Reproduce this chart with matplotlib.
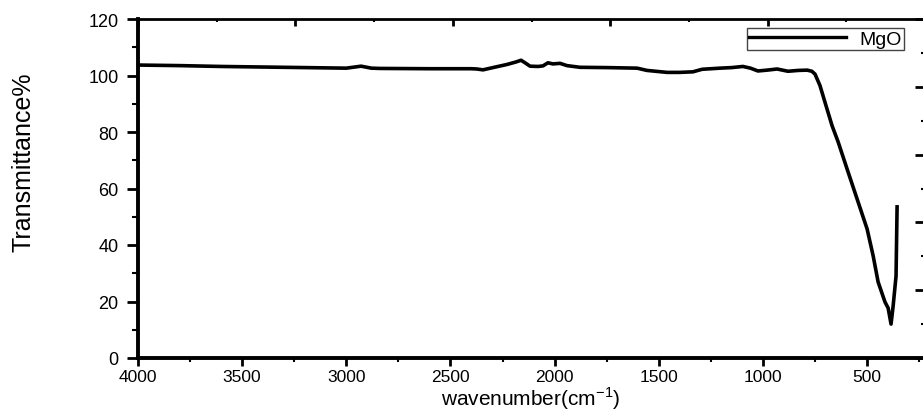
import matplotlib
matplotlib.use('Agg')
import matplotlib.pyplot as plt
from matplotlib.ticker import MultipleLocator

plt.rcParams['font.family'] = ['Liberation Sans', 'DejaVu Sans']
plt.rcParams['mathtext.fontset'] = 'custom'
plt.rcParams['mathtext.rm'] = 'Liberation Sans'

# FTIR spectrum
wavenumber = [4000, 3800, 3600, 3400, 3200, 3000, 2929, 2880, 2838, 2600, 2400,
              2373, 2344, 2290, 2229, 2185, 2161, 2140, 2118, 2080, 2056,
              2032, 2008, 1974, 1941, 1878, 1750, 1604, 1557, 1460, 1400,
              1336, 1292, 1206, 1150, 1096, 1060, 1024, 980, 932, 880,
              830, 788, 765, 750, 726, 702, 668, 639, 596, 548,
              500, 471, 447, 414, 399, 385, 375, 361, 356]
transmittance = [103.7, 103.5, 103.2, 103.0, 102.8, 102.6, 103.3, 102.6, 102.5, 102.4, 102.4,
                 102.3, 102.0, 102.9, 103.9, 104.8, 105.4, 104.4, 103.3, 103.2, 103.4,
                 104.5, 104.1, 104.3, 103.5, 102.9, 102.8, 102.6, 101.8, 101.1, 101.1,
                 101.3, 102.2, 102.6, 102.8, 103.2, 102.6, 101.6, 101.9, 102.3, 101.5,
                 101.8, 101.9, 101.5, 100.5, 96.4, 90.5, 82.2, 76.5, 66.9, 56.3,
                 45.7, 36.2, 26.9, 19.8, 17.7, 12.0, 18.4, 29.0, 53.5]

fig = plt.figure(figsize=(9.23, 4.14), dpi=100)
ax = fig.add_axes([138 / 923, 55 / 414, 787 / 923, 339 / 414])

ax.plot(wavenumber, transmittance, color='black', lw=2.6,
        solid_joinstyle='round', label='MgO')

ax.set_xlim(4000, 222)
ax.set_ylim(0, 120)
ax.xaxis.set_major_locator(MultipleLocator(500))
ax.xaxis.set_minor_locator(MultipleLocator(250))
ax.yaxis.set_major_locator(MultipleLocator(20))
ax.yaxis.set_minor_locator(MultipleLocator(10))
ax.set_xticks(range(4000, 499, -500))

ax.tick_params(axis='x', which='major', direction='out', length=6, width=2,
               labelsize=12.5, pad=2)
ax.tick_params(axis='x', which='minor', direction='out', length=3, width=1.5)
ax.tick_params(axis='y', which='major', direction='out', length=8, width=2,
               labelsize=13, pad=6)
ax.tick_params(axis='y', which='minor', direction='out', length=4, width=1.5)

for side in ['left', 'bottom']:
    ax.spines[side].set_linewidth(2.8)
for side in ['top', 'right']:
    ax.spines[side].set_linewidth(2)

# extra frame ticks on top and right, no labels
ax_top = ax.twiny()
ax_top.set_xlim(0, 1)
ax_top.xaxis.set_major_locator(MultipleLocator(0.2))
ax_top.xaxis.set_minor_locator(MultipleLocator(0.1))
ax_top.tick_params(axis='x', which='major', direction='in', length=5, width=2, labeltop=False)
ax_top.tick_params(axis='x', which='minor', direction='in', length=2.5, width=1.5)

ax_right = ax.twinx()
ax_right.set_ylim(0, 1)
ax_right.yaxis.set_major_locator(MultipleLocator(0.2))
ax_right.yaxis.set_minor_locator(MultipleLocator(0.1))
ax_right.tick_params(axis='y', which='major', direction='in', length=7, width=2, labelright=False)
ax_right.tick_params(axis='y', which='minor', direction='in', length=3, width=1.5)
for a in [ax_top, ax_right]:
    for s in a.spines.values():
        s.set_visible(False)

fig.text(24 / 923, 1 - 162 / 414, 'Transmittance%', rotation=90,
         ha='center', va='center', fontsize=18)
fig.text(531 / 923, 1.5 / 414, r'wavenumber(cm$^{\mathregular{-1}}$)',
         ha='center', va='bottom', fontsize=15)

leg = ax.legend(loc='upper right', bbox_to_anchor=(904 / 923, 1 - 29 / 414),
                bbox_transform=fig.transFigure, fontsize=14, frameon=True,
                fancybox=False, framealpha=1, edgecolor='#444444',
                borderpad=0.1, handlelength=5, handletextpad=0.7,
                borderaxespad=0)
leg.get_frame().set_linewidth(1)
leg.get_lines()[0].set_linewidth(2.4)

fig.savefig('out.png', dpi=100)
